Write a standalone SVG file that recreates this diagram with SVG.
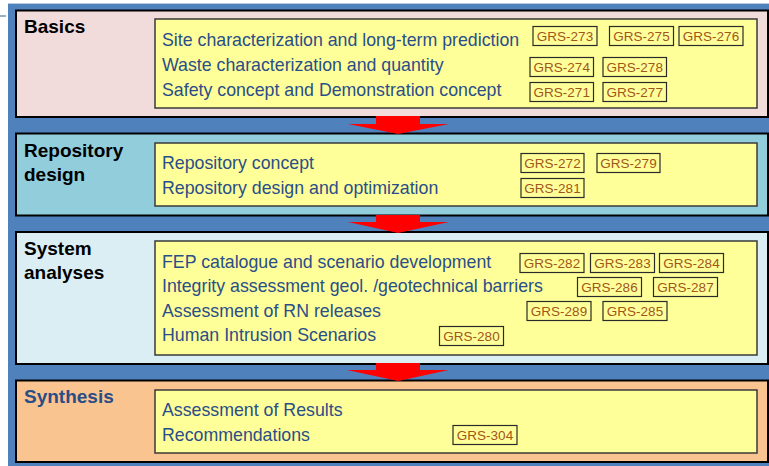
<svg xmlns="http://www.w3.org/2000/svg" width="769" height="466" viewBox="0 0 769 466">
<style>
.panel{stroke:#000;stroke-width:2}
.box{fill:#ffff99;stroke:#3a3a3a;stroke-width:1.5}
.head{font-family:"Liberation Sans",Arial,sans-serif;font-weight:bold;font-size:19px;fill:#000}
.item{font-family:"Liberation Sans",Arial,sans-serif;font-size:17.75px;fill:#2a4e88}
.badge rect{fill:#ffff99;stroke:#2a2a2a;stroke-width:1.2}
.badge text{font-family:"Liberation Sans",Arial,sans-serif;font-size:13.5px;fill:#a0561b;text-anchor:middle}
.arrow{fill:#ff0000}
</style>
<rect x="0" y="0" width="769" height="466" fill="#ffffff"/>
<rect x="8" y="3" width="761" height="463" fill="#4f81bd"/>
<line x1="8" y1="3.5" x2="769" y2="3.5" stroke="#b8c9e0" stroke-width="1"/>
<line x1="0" y1="16" x2="6" y2="16" stroke="#3a5f8f" stroke-width="1"/>

<g id="basics">
<rect class="panel" x="16" y="10.5" width="752" height="106.5" fill="#f2dcdb"/>
<rect class="box" x="155" y="19" width="602" height="89"/>
<text class="head" x="24" y="33">Basics</text>
<text class="item" x="162" y="46">Site characterization and long-term prediction</text>
<text class="item" x="162" y="71">Waste characterization and quantity</text>
<text class="item" x="162" y="95.5">Safety concept and Demonstration concept</text>
<g class="badge"><rect x="533" y="26.5" width="64" height="19"/><text x="565" y="41">GRS-273</text></g>
<g class="badge"><rect x="609.5" y="26.5" width="64" height="19"/><text x="641.5" y="41">GRS-275</text></g>
<g class="badge"><rect x="679" y="26.5" width="64" height="19"/><text x="711" y="41">GRS-276</text></g>
<g class="badge"><rect x="530" y="57.5" width="63.5" height="19"/><text x="561.75" y="72">GRS-274</text></g>
<g class="badge"><rect x="603" y="57.5" width="63.5" height="19"/><text x="634.75" y="72">GRS-278</text></g>
<g class="badge"><rect x="530" y="82.5" width="63.5" height="19"/><text x="561.75" y="97">GRS-271</text></g>
<g class="badge"><rect x="603" y="82.5" width="63.5" height="19"/><text x="634.75" y="97">GRS-277</text></g>
</g>

<g id="repository-design">
<rect class="panel" x="16" y="133.5" width="752" height="82" fill="#92cddc"/>
<rect class="box" x="155" y="143" width="602" height="63"/>
<text class="head" x="24" y="157">Repository</text>
<text class="head" x="24" y="181">design</text>
<text class="item" x="162" y="169">Repository concept</text>
<text class="item" x="162" y="193.5">Repository design and optimization</text>
<g class="badge"><rect x="521" y="153.5" width="63" height="19"/><text x="552.5" y="168">GRS-272</text></g>
<g class="badge"><rect x="597" y="153.5" width="63" height="19"/><text x="628.5" y="168">GRS-279</text></g>
<g class="badge"><rect x="521" y="178.5" width="63" height="19"/><text x="552.5" y="193">GRS-281</text></g>
</g>

<g id="system-analyses">
<rect class="panel" x="16" y="232" width="752" height="132" fill="#dbeef4"/>
<rect class="box" x="155" y="241" width="602" height="114"/>
<text class="head" x="24" y="254.5">System</text>
<text class="head" x="24" y="279">analyses</text>
<text class="item" x="162" y="268">FEP catalogue and scenario development</text>
<text class="item" x="162" y="292">Integrity assessment geol. /geotechnical barriers</text>
<text class="item" x="162" y="316.5">Assessment of RN releases</text>
<text class="item" x="162" y="341">Human Intrusion Scenarios</text>
<g class="badge"><rect x="520" y="253.5" width="64" height="19"/><text x="552" y="268">GRS-282</text></g>
<g class="badge"><rect x="590.5" y="253.5" width="64" height="19"/><text x="622.5" y="268">GRS-283</text></g>
<g class="badge"><rect x="659.5" y="253.5" width="64" height="19"/><text x="691.5" y="268">GRS-284</text></g>
<g class="badge"><rect x="577.5" y="277.5" width="64" height="19"/><text x="609.5" y="292">GRS-286</text></g>
<g class="badge"><rect x="653.5" y="277.5" width="64" height="19"/><text x="685.5" y="292">GRS-287</text></g>
<g class="badge"><rect x="527" y="301.5" width="64" height="19"/><text x="559" y="316">GRS-289</text></g>
<g class="badge"><rect x="603" y="301.5" width="64" height="19"/><text x="635" y="316">GRS-285</text></g>
<g class="badge"><rect x="439.5" y="326.5" width="64" height="19"/><text x="471.5" y="341">GRS-280</text></g>
</g>

<g id="synthesis">
<rect class="panel" x="16" y="380.5" width="752" height="81.5" fill="#fac491"/>
<rect class="box" x="155" y="390" width="602" height="63"/>
<text class="head" x="24" y="403" style="fill:#2a4d85">Synthesis</text>
<text class="item" x="162" y="416">Assessment of Results</text>
<text class="item" x="162" y="440.5">Recommendations</text>
<g class="badge"><rect x="453" y="425.5" width="64" height="19"/><text x="485" y="440">GRS-304</text></g>
</g>

<g id="connectors">
<polygon class="arrow" points="376,116 420,116 420,124 449,124 398,134 348,124 376,124"/>
<polygon class="arrow" points="376,215 420,215 420,222 449,222 398,233 348,222 376,222"/>
<polygon class="arrow" points="376,363 420,363 420,370 449,370 398,381 347,370 376,370"/>
</g>
</svg>
